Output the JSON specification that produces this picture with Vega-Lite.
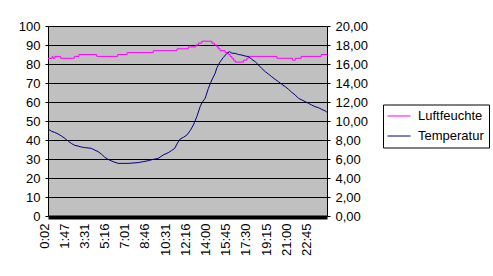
{
  "$schema": "https://vega.github.io/schema/vega-lite/v6.json",
  "width": 279,
  "height": 190,
  "autosize": {"type": "none"},
  "padding": {"left": 48, "top": 26, "right": 166, "bottom": 60},
  "background": "white",
  "datasets": {
    "hum": [
      {"min": 2, "rh": 83}, {"min": 24, "rh": 84}, {"min": 28, "rh": 83}, {"min": 38, "rh": 84},
      {"min": 68, "rh": 83}, {"min": 139, "rh": 84}, {"min": 163, "rh": 85}, {"min": 255, "rh": 84},
      {"min": 364, "rh": 85}, {"min": 413, "rh": 86}, {"min": 549, "rh": 87}, {"min": 672, "rh": 88},
      {"min": 731, "rh": 89}, {"min": 770, "rh": 90}, {"min": 783, "rh": 91}, {"min": 801, "rh": 92},
      {"min": 853, "rh": 91}, {"min": 866, "rh": 90}, {"min": 879, "rh": 89}, {"min": 887, "rh": 88},
      {"min": 896, "rh": 87}, {"min": 922, "rh": 86}, {"min": 939, "rh": 85}, {"min": 948, "rh": 84},
      {"min": 957, "rh": 83}, {"min": 965, "rh": 82}, {"min": 974, "rh": 81}, {"min": 1017, "rh": 82},
      {"min": 1035, "rh": 83}, {"min": 1043, "rh": 84}, {"min": 1191, "rh": 83}, {"min": 1272, "rh": 82},
      {"min": 1286, "rh": 83}, {"min": 1317, "rh": 84}, {"min": 1421, "rh": 85}, {"min": 1451, "rh": 85}
    ],
    "temp": [
      {"min": 2, "t": 9.16}, {"min": 20, "t": 8.92}, {"min": 37, "t": 8.80}, {"min": 54, "t": 8.64},
      {"min": 72, "t": 8.42}, {"min": 89, "t": 8.18}, {"min": 106, "t": 7.90}, {"min": 123, "t": 7.64},
      {"min": 141, "t": 7.44}, {"min": 158, "t": 7.36}, {"min": 175, "t": 7.26}, {"min": 193, "t": 7.20},
      {"min": 210, "t": 7.16}, {"min": 227, "t": 7.12}, {"min": 245, "t": 6.94}, {"min": 262, "t": 6.78},
      {"min": 279, "t": 6.52}, {"min": 297, "t": 6.18}, {"min": 314, "t": 5.96}, {"min": 340, "t": 5.72},
      {"min": 366, "t": 5.54}, {"min": 392, "t": 5.54}, {"min": 418, "t": 5.54}, {"min": 444, "t": 5.58},
      {"min": 470, "t": 5.62}, {"min": 496, "t": 5.72}, {"min": 522, "t": 5.82}, {"min": 548, "t": 5.96},
      {"min": 574, "t": 6.06}, {"min": 600, "t": 6.42}, {"min": 626, "t": 6.66}, {"min": 643, "t": 6.88},
      {"min": 660, "t": 7.12}, {"min": 675, "t": 7.70}, {"min": 688, "t": 8.10}, {"min": 705, "t": 8.28},
      {"min": 723, "t": 8.52}, {"min": 740, "t": 8.98}, {"min": 757, "t": 9.58}, {"min": 775, "t": 10.46},
      {"min": 792, "t": 11.50}, {"min": 801, "t": 11.92}, {"min": 818, "t": 12.38}, {"min": 835, "t": 13.44},
      {"min": 853, "t": 14.32}, {"min": 870, "t": 15.02}, {"min": 879, "t": 15.60}, {"min": 896, "t": 16.24},
      {"min": 913, "t": 16.70}, {"min": 931, "t": 17.12}, {"min": 944, "t": 17.30}, {"min": 957, "t": 17.14},
      {"min": 974, "t": 17.12}, {"min": 991, "t": 17.00}, {"min": 1009, "t": 16.94}, {"min": 1026, "t": 16.84},
      {"min": 1043, "t": 16.78}, {"min": 1060, "t": 16.50}, {"min": 1078, "t": 16.24}, {"min": 1095, "t": 15.90},
      {"min": 1112, "t": 15.54}, {"min": 1130, "t": 15.20}, {"min": 1147, "t": 14.94}, {"min": 1164, "t": 14.66},
      {"min": 1182, "t": 14.38}, {"min": 1199, "t": 14.14}, {"min": 1216, "t": 13.86}, {"min": 1234, "t": 13.62},
      {"min": 1251, "t": 13.34}, {"min": 1268, "t": 13.02}, {"min": 1286, "t": 12.74}, {"min": 1303, "t": 12.38},
      {"min": 1320, "t": 12.22}, {"min": 1338, "t": 12.04}, {"min": 1355, "t": 11.86}, {"min": 1372, "t": 11.68},
      {"min": 1390, "t": 11.50}, {"min": 1407, "t": 11.40}, {"min": 1424, "t": 11.22}, {"min": 1442, "t": 11.06},
      {"min": 1451, "t": 10.92}
    ]
  },
  "encoding": {
    "x": {
      "field": "min", "type": "quantitative",
      "scale": {"domain": [2, 1451], "nice": false, "zero": false},
      "axis": {
        "title": null,
        "values": [2, 107, 211, 316, 421, 526, 631, 736, 840, 945, 1050, 1155, 1260, 1365],
        "labelExpr": "floor(datum.value / 60) + ':' + (datum.value % 60 < 10 ? '0' : '') + (datum.value % 60)",
        "labelAngle": 270,
        "labelAlign": "right",
        "labelBaseline": "alphabetic",
        "labelDy": 1,
        "labelPadding": 6,
        "ticks": false,
        "grid": false,
        "domainColor": "black",
        "domainWidth": 4,
        "offset": 1,
        "labelFont": "Liberation Sans",
        "labelFontSize": 13,
        "labelColor": "black",
        "labelOverlap": false,
        "labelFlush": false,
        "labelBound": false
      }
    }
  },
  "layer": [
    {
      "data": {"name": "hum"},
      "mark": {"type": "line", "interpolate": "step-after", "strokeWidth": 1},
      "encoding": {
        "y": {
          "field": "rh", "type": "quantitative",
          "scale": {"domain": [0, 100], "nice": false},
          "axis": {
            "title": null,
            "orient": "left",
            "values": [0, 10, 20, 30, 40, 50, 60, 70, 80, 90, 100],
            "grid": true,
            "gridColor": "black",
            "gridOpacity": 1,
            "gridWidth": 1,
            "tickSize": 3,
            "tickColor": "black",
            "domainColor": "black",
            "labelPadding": 5,
            "labelFont": "Liberation Sans",
            "labelFontSize": 13,
            "labelColor": "black",
            "labelOverlap": false,
            "labelFlush": false
          }
        },
        "color": {
          "datum": "Luftfeuchte", "type": "nominal",
          "scale": {"domain": ["Luftfeuchte", "Temperatur"], "range": ["#FF00FF", "#000080"]},
          "legend": {
            "title": null,
            "orient": "none",
            "legendX": 335,
            "legendY": 78.5,
            "strokeColor": "black",
            "fillColor": "white",
            "padding": 4.5,
            "symbolType": "M-1.77,0H1.77",
            "symbolSize": 169,
            "symbolOffset": 4.5,
            "symbolStrokeWidth": 1,
            "labelFont": "Liberation Sans",
            "labelFontSize": 13,
            "labelColor": "black",
            "labelOffset": 12,
            "rowPadding": 6
          }
        }
      }
    },
    {
      "data": {"name": "temp"},
      "mark": {"type": "line", "interpolate": "linear", "strokeWidth": 1},
      "encoding": {
        "y": {
          "field": "t", "type": "quantitative",
          "scale": {"domain": [0, 20], "nice": false},
          "axis": {
            "title": null,
            "orient": "right",
            "values": [0, 2, 4, 6, 8, 10, 12, 14, 16, 18, 20],
            "labelExpr": "replace(format(datum.value, '.2f'), '.', ',')",
            "grid": false,
            "tickSize": 3,
            "tickColor": "black",
            "domainColor": "black",
            "labelPadding": 5,
            "labelFont": "Liberation Sans",
            "labelFontSize": 13,
            "labelColor": "black",
            "labelOverlap": false,
            "labelFlush": false
          }
        },
        "color": {"datum": "Temperatur", "type": "nominal"}
      }
    }
  ],
  "resolve": {"scale": {"y": "independent"}},
  "config": {
    "view": {"fill": "#C0C0C0", "stroke": null},
    "axis": {"labelOverlap": false}
  }
}
